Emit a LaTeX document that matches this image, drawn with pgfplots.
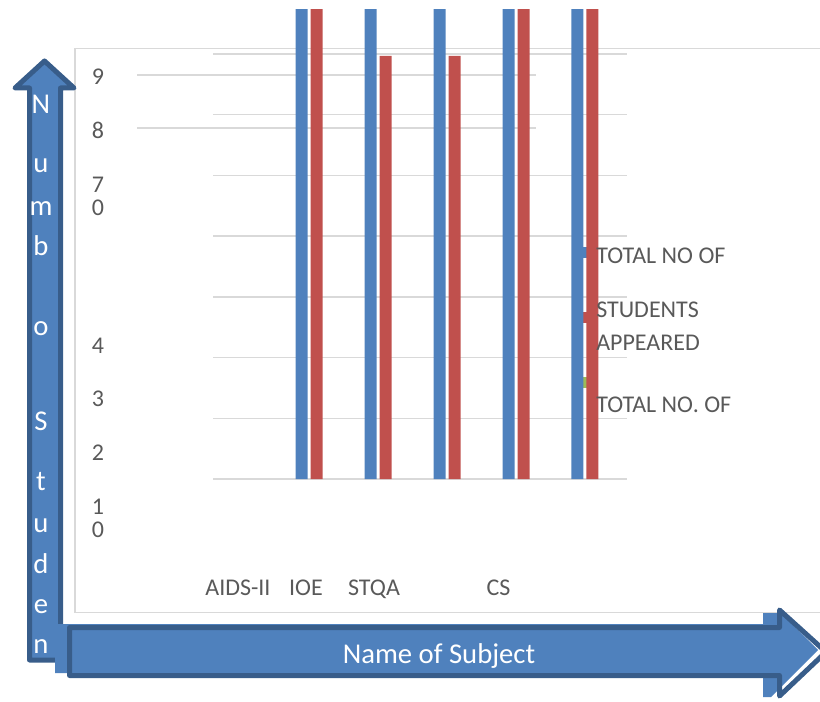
\documentclass[border=0pt]{standalone}
\usepackage{fontspec}
\setmainfont{Carlito}
\usepackage{pgfplots}
\pgfplotsset{compat=1.18}
\definecolor{barblue}{HTML}{4F81BD}
\definecolor{barred}{HTML}{C0504D}
\definecolor{bargreen}{HTML}{9BBB59}
\definecolor{darkblue}{HTML}{385D8A}
\definecolor{gridgray}{HTML}{D9D9D9}
\definecolor{txtgray}{HTML}{595959}
\newcommand\tfont{\fontsize{18}{21}\selectfont}
\newcommand\afont{\fontsize{21.5}{24}\selectfont}
\begin{document}
\begin{tikzpicture}
\path[use as bounding box] (0,0) rectangle (615pt,-526.5pt);
\clip (0,0) rectangle (615pt,-526.5pt);
\begin{scope}[x=0.75pt,y=-0.75pt]
 \draw[gridgray, line width=1pt] (75,48.5) rectangle (840,612.5);
 \draw[gridgray, line width=1.1pt] (137,75) -- (536,75) (137,128) -- (536,128);
 \fill[barblue] (583,247) rectangle (593,258);
 \fill[barred] (583,312) rectangle (593,323);
 \fill[bargreen] (583,377) rectangle (593,388);
\end{scope}
\begin{axis}[at={(159.75pt,-359.25pt)}, anchor=south west,
  width=310.5pt, height=351.75pt, scale only axis,
  xmin=-0.5, xmax=5.5, ymin=0, ymax=77.25, enlargelimits=false,
  axis line style={draw=none}, tick style={draw=none}, major tick length=0pt,
  ytick={0,10,...,70}, yticklabels={},
  ymajorgrids, grid style={draw=gridgray, line width=1.1pt},
  xtick={-0.138,0.848,1.833,3.638}, xticklabels={AIDS-II,IOE,STQA,CS},
  xticklabel style={anchor=base, yshift=-87pt, font=\tfont, text=txtgray, inner sep=0pt}]
\addplot[ybar, bar width=9pt, bar shift=-11.25pt, fill=barblue, draw=none]
  coordinates {(1,80) (2,80) (3,80) (4,80) (5,80)};
\addplot[ybar, bar width=9pt, bar shift=0pt, fill=barred, draw=none]
  coordinates {(1,80) (2,69.7) (3,69.7) (4,80) (5,80)};
\end{axis}
\begin{scope}[x=0.75pt,y=-0.75pt]
 % garbled y tick labels
 \foreach \t/\yy in {9/77, 8/130, 7/185, 0/208, 4/346, 3/399, 2/453, 1/507, 0/530}
   \node[text=txtgray, font=\tfont, inner sep=0pt] at (98,\yy) {\t};
 % legend text
 \node[anchor=base west, inner sep=0pt, text=txtgray, font=\tfont] at (596,263) {TOTAL NO OF};
 \node[anchor=base west, inner sep=0pt, text=txtgray, font=\tfont] at (596,317) {STUDENTS};
 \node[anchor=base west, inner sep=0pt, text=txtgray, font=\tfont] at (596,350) {APPEARED};
 \node[anchor=base west, inner sep=0pt, text=txtgray, font=\tfont] at (596,412) {TOTAL NO. OF};
 % vertical arrow
 \fill[barblue] (29.5,660) -- (29.5,88) -- (15,88) -- (44.5,61) -- (74,88) -- (60.5,88) -- (60.5,660) -- cycle;
 \draw[darkblue, line width=3.75pt, line join=round] (29.5,660) -- (29.5,88) -- (15,88) -- (44.5,61) -- (74,88) -- (60.5,88) -- (60.5,660) -- cycle;
 % horizontal arrow
 \fill[barblue] (55,624) -- (763,624) -- (763,613) -- (781,613) -- (818,650) -- (771,697) -- (763,697) -- (763,673) -- (55,673) -- cycle;
 \draw[darkblue, line width=3.75pt, line join=round] (69.5,627.5) -- (779.5,627.5) -- (779.5,610) -- (826,652) -- (779.5,696) -- (779.5,675.5) -- (69.5,675.5) -- cycle;
 \node[text=white, font=\afont, anchor=base, inner sep=0pt] at (439,663) {Name of Subject};
 \foreach \l/\yy in {N/114, u/173, m/215, b/255, o/335, S/430, t/490, u/532, d/573, e/613, n/653}
   \node[text=white, font=\afont, anchor=base, inner sep=0pt] at (41,\yy) {\l};
\end{scope}
\end{tikzpicture}
\end{document}
